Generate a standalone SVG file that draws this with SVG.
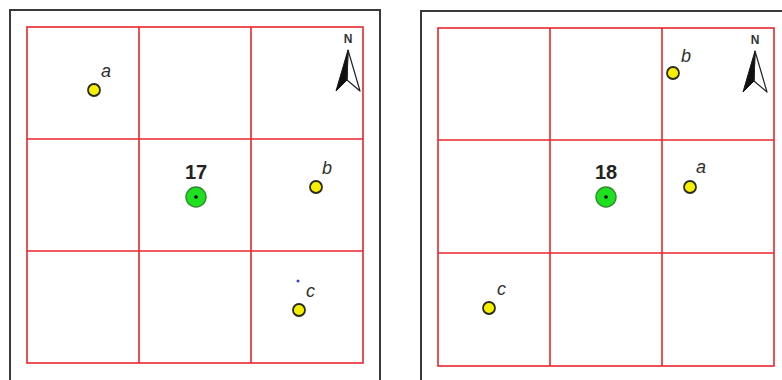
<svg xmlns="http://www.w3.org/2000/svg" width="782" height="380" viewBox="0 0 782 380">
<style>
.frame{fill:none;stroke:#3a3a3a;stroke-width:2}
.grid{fill:none;stroke:#e8262e;stroke-width:1.6}
.pt{fill:#f5f000;stroke:#2a2a1a;stroke-width:1.8}
.tgt{fill:#1ee01e;stroke:#2e8b2e;stroke-width:1.4}
.ctr{fill:#000}
.lbl{font-family:"Liberation Sans",Arial,sans-serif;font-style:italic;font-size:18px;fill:#2e2e2e}
.num{font-family:"Liberation Sans",Arial,sans-serif;font-weight:bold;font-size:20px;fill:#222;text-anchor:middle}
.n{font-family:"Liberation Sans",Arial,sans-serif;font-weight:bold;font-size:12px;fill:#333;text-anchor:middle}
.arrF{fill:#111;stroke:#111;stroke-width:1;stroke-linejoin:round}
.arrO{fill:none;stroke:#222;stroke-width:1.2;stroke-linejoin:round}
</style>
<rect width="782" height="380" fill="#fff"/>

<g id="panel17">
  <path class="frame" d="M10,382 V10 H380 V382"/>
  <g class="grid">
    <rect x="27" y="27" width="336" height="336"/>
    <line x1="139" y1="27" x2="139" y2="363"/>
    <line x1="251" y1="27" x2="251" y2="363"/>
    <line x1="27" y1="139" x2="363" y2="139"/>
    <line x1="27" y1="251" x2="363" y2="251"/>
  </g>
  <g id="north17">
    <text class="n" x="348" y="43">N</text>
    <polygon class="arrF" points="348,50 336,91 347,80"/>
    <polygon class="arrO" points="348,50 347,80 360,91"/>
  </g>
  <g id="cell17">
    <circle class="tgt" cx="196" cy="197" r="10"/>
    <circle class="ctr" cx="196" cy="197" r="1.8"/>
    <text class="num" x="196" y="179">17</text>
  </g>
  <g id="a17">
    <circle class="pt" cx="94" cy="90" r="6"/>
    <text class="lbl" x="101" y="77">a</text>
  </g>
  <g id="b17">
    <circle class="pt" cx="316" cy="187" r="6"/>
    <text class="lbl" x="322" y="174">b</text>
  </g>
  <g id="c17">
    <circle cx="298" cy="281" r="1.5" fill="#3a3aff"/>
    <circle class="pt" cx="299" cy="310" r="6"/>
    <text class="lbl" x="306" y="297">c</text>
  </g>
</g>

<g id="panel18">
  <path class="frame" d="M421,382 V11 H784"/>
  <g class="grid">
    <rect x="438" y="28" width="336" height="338"/>
    <line x1="550" y1="28" x2="550" y2="366"/>
    <line x1="662" y1="28" x2="662" y2="366"/>
    <line x1="438" y1="140" x2="774" y2="140"/>
    <line x1="438" y1="253" x2="774" y2="253"/>
  </g>
  <g id="north18">
    <text class="n" x="755" y="44">N</text>
    <polygon class="arrF" points="755,51 743,92 754,81"/>
    <polygon class="arrO" points="755,51 754,81 767,92"/>
  </g>
  <g id="cell18">
    <circle class="tgt" cx="606" cy="197" r="10"/>
    <circle class="ctr" cx="606" cy="197" r="1.8"/>
    <text class="num" x="606" y="179">18</text>
  </g>
  <g id="a18">
    <circle class="pt" cx="690" cy="187" r="6"/>
    <text class="lbl" x="696" y="173">a</text>
  </g>
  <g id="b18">
    <circle class="pt" cx="673" cy="73" r="6"/>
    <text class="lbl" x="681" y="62">b</text>
  </g>
  <g id="c18">
    <circle class="pt" cx="489" cy="308" r="6"/>
    <text class="lbl" x="497" y="295">c</text>
  </g>
</g>
<g id="connectors"/>
</svg>
